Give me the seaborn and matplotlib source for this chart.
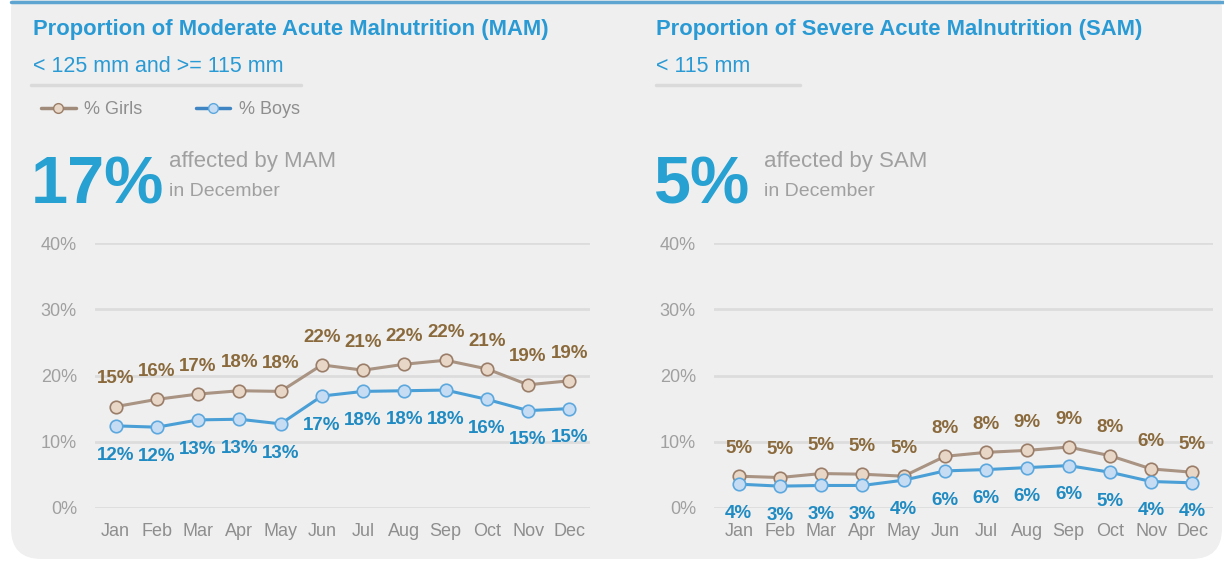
import numpy as np
import pandas as pd
import matplotlib
matplotlib.use('Agg')
import matplotlib.pyplot as plt
import seaborn as sns
from matplotlib.patches import FancyBboxPatch
from matplotlib.lines import Line2D

months = ['Jan', 'Feb', 'Mar', 'Apr', 'May', 'Jun', 'Jul', 'Aug', 'Sep', 'Oct', 'Nov', 'Dec']

# MAM (% of children screened)
mam_girls = [15.3, 16.4, 17.2, 17.7, 17.6, 21.6, 20.8, 21.7, 22.3, 21.0, 18.6, 19.2]
mam_boys = [12.4, 12.2, 13.3, 13.4, 12.7, 16.9, 17.6, 17.7, 17.8, 16.4, 14.7, 15.0]

# SAM
sam_girls = [4.8, 4.6, 5.2, 5.1, 4.8, 7.8, 8.4, 8.7, 9.2, 7.9, 5.9, 5.4]
sam_boys = [3.6, 3.3, 3.4, 3.4, 4.2, 5.6, 5.8, 6.1, 6.4, 5.4, 4.0, 3.8]

mam_headline = '17%'
sam_headline = '5%'

sns.set_style('white')
plt.rcParams['font.family'] = ['Liberation Sans', 'DejaVu Sans']

W, H = 1224, 563
fig = plt.figure(figsize=(W / 100, H / 100), dpi=100)
fig.patch.set_facecolor('white')


def fx(x):
    return x / W


def fy(y):
    return 1 - y / H


# panel background + blue top rule
panel = FancyBboxPatch((fx(11), fy(559)), fx(1222) - fx(11), fy(-20) - fy(559),
                       boxstyle='round,pad=0,rounding_size=0.025', transform=fig.transFigure,
                       facecolor='#efefef', edgecolor='none', zorder=-5, mutation_aspect=W / H)
fig.patches.append(panel)
fig.add_artist(Line2D([fx(11), 1], [fy(1.5), fy(1.5)], color='#5fa5d2', lw=2.5, transform=fig.transFigure))

title_col = '#2a9ad4'
grey_txt = '#a0a0a0'
girl_line, girl_fill, girl_edge, girl_lab = '#a99383', '#e8d6c6', '#9a7d68', '#8a6a3c'
boy_line, boy_fill, boy_edge, boy_lab = '#4a9fd6', '#c6dcf3', '#5ca8de', '#1f8bc2'

panels = [
    dict(x0=33, title='Proportion of Moderate Acute Malnutrition (MAM)', sub='< 125 mm and >= 115 mm',
         rule=(31, 301), big=mam_headline, aff='affected by MAM', aff_x=169,
         girls=mam_girls, boys=mam_boys, ax=(95, 590), xlim=(-0.5, 11.5)),
    dict(x0=656, title='Proportion of Severe Acute Malnutrition (SAM)', sub='< 115 mm',
         rule=(656, 800), big=sam_headline, aff='affected by SAM', aff_x=764,
         girls=sam_girls, boys=sam_boys, ax=(714, 1213), xlim=(-0.6, 11.5)),
]

for p in panels:
    fig.text(fx(p['x0']), fy(30), p['title'], color=title_col, fontsize=15.8, fontweight='bold', va='center')
    fig.text(fx(p['x0']), fy(67), p['sub'], color=title_col, fontsize=15.5, va='center')
    fig.add_artist(Line2D([fx(p['rule'][0]), fx(p['rule'][1])], [fy(84.5), fy(84.5)],
                          color='#dadada', lw=2.5, transform=fig.transFigure))
    fig.text(fx(p['x0'] - 2), fy(203), p['big'], color='#27a0d2', fontsize=48, fontweight='bold',
             va='baseline', ha='left')
    fig.text(fx(p['aff_x']), fy(161), p['aff'], color=grey_txt, fontsize=16, va='center')
    fig.text(fx(p['aff_x']), fy(191), 'in December', color=grey_txt, fontsize=14, va='center')

    l, r = p['ax']
    ax = fig.add_axes([fx(l), fy(508), fx(r) - fx(l), fy(243) - fy(508)])
    ax.set_facecolor('none')
    x = np.arange(len(months))
    df = pd.DataFrame({'x': np.concatenate([x, x]),
                       'value': p['girls'] + p['boys'],
                       'sex': ['% Girls'] * 12 + ['% Boys'] * 12})
    for sex, lc, fc, ec in [('% Girls', girl_line, girl_fill, girl_edge),
                            ('% Boys', boy_line, boy_fill, boy_edge)]:
        sns.lineplot(data=df[df['sex'] == sex], x='x', y='value', ax=ax, color=lc, lw=2.2,
                     marker='o', markersize=9, markerfacecolor=fc, markeredgecolor=ec,
                     markeredgewidth=1.2, label=sex, zorder=3)
    for i, v in enumerate(p['girls']):
        ax.annotate(f'{round(v)}%', (i, v), xytext=(0, 20), textcoords='offset points',
                    ha='center', va='center', color=girl_lab, fontsize=13.5, fontweight='bold')
    for i, v in enumerate(p['boys']):
        ax.annotate(f'{round(v)}%', (i, v), xytext=(0, -21), textcoords='offset points',
                    ha='center', va='center', color=boy_lab, fontsize=13.5, fontweight='bold')

    ax.set_ylim(0, 40)
    ax.set_xlim(*p['xlim'])
    ax.set_yticks([0, 10, 20, 30, 40])
    ax.set_yticklabels([f'{t}%' for t in [0, 10, 20, 30, 40]])
    ax.set_xticks(x)
    ax.set_xticklabels(months)
    ax.yaxis.grid(True, color='#dcdcdc', lw=2)
    ax.xaxis.grid(False)
    ax.tick_params(axis='y', length=0, pad=13, labelsize=13, labelcolor=grey_txt)
    ax.tick_params(axis='x', length=0, pad=11, labelsize=13, labelcolor='#8e8e8e')
    ax.set_xlabel('')
    ax.set_ylabel('')
    sns.despine(ax=ax, left=True, bottom=True)
    ax.get_legend().remove()
    if p['x0'] == 33:
        handles, labels = ax.get_legend_handles_labels()
        legend_handles = [Line2D([], [], color='#a08a7a', lw=2.5, marker='o', markersize=7,
                                 markerfacecolor=girl_fill, markeredgecolor=girl_edge),
                          Line2D([], [], color='#3f85c4', lw=2.5, marker='o', markersize=7,
                                 markerfacecolor=boy_fill, markeredgecolor=boy_edge)]
        fig.legend(legend_handles, labels, loc='center left', bbox_to_anchor=(fx(25), fy(110)),
                   ncol=2, frameon=False, fontsize=13, handlelength=1.9, columnspacing=3.0,
                   handletextpad=0.45, labelcolor='#8e8e8e')

fig.savefig('out.png', dpi=100)
